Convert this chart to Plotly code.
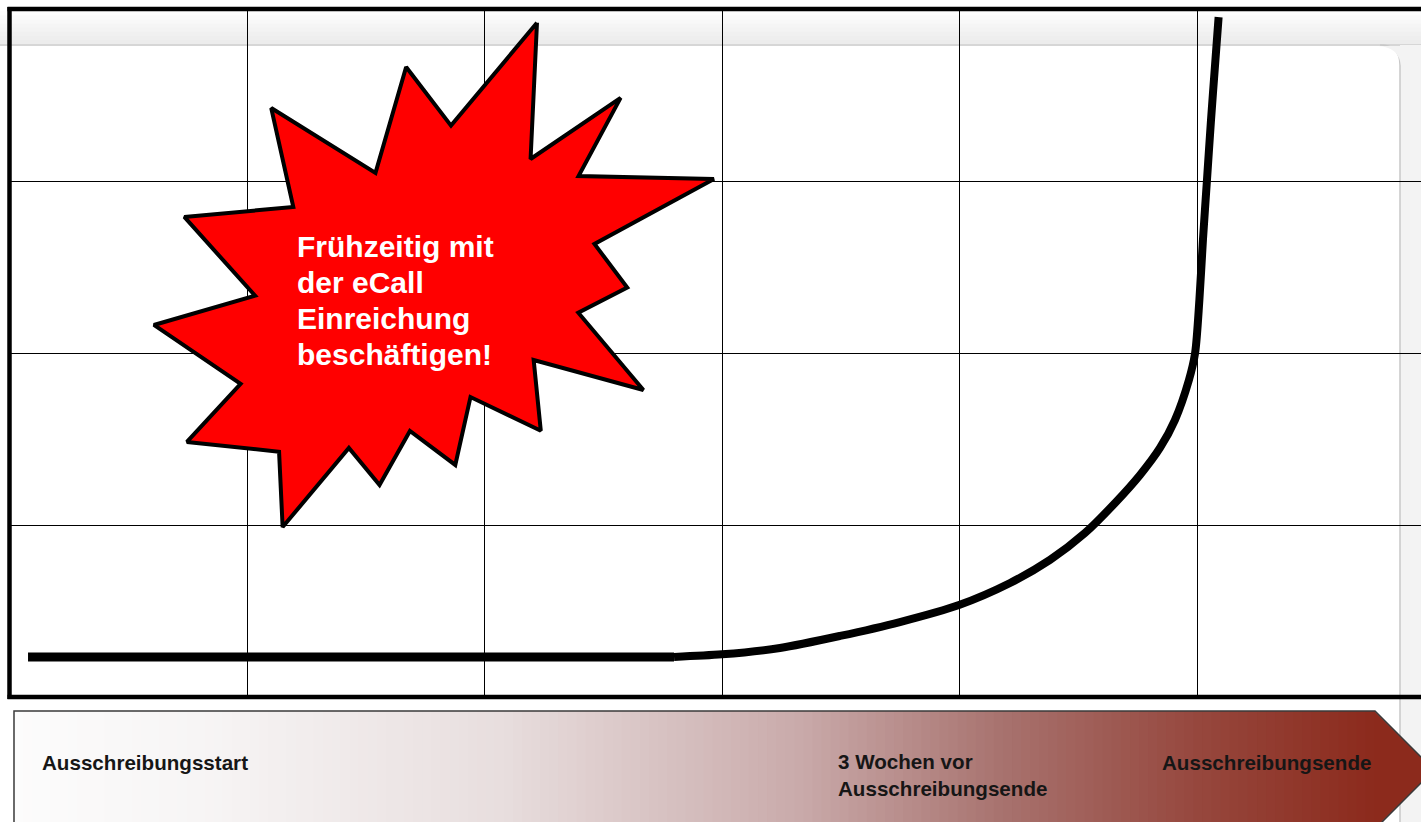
import plotly.graph_objects as go

W, H = 1421, 822

# ---------------- data (grid units: x = time columns, y = effort rows) ----------------
flat_x = [0.078, 2.798]
flat_y = [0.233, 0.233]

curve_x = [2.798, 3.000, 3.244, 3.497, 3.749, 3.998, 4.213, 4.381, 4.528, 4.655, 4.760,
           4.844, 4.907, 4.966, 4.992, 5.010, 5.025, 5.042, 5.059, 5.076, 5.091]
curve_y = [0.233, 0.248, 0.285, 0.355, 0.436, 0.535, 0.663, 0.797, 0.953, 1.128, 1.291,
           1.448, 1.610, 1.843, 2.000, 2.308, 2.657, 3.006, 3.355, 3.674, 3.953]

star_x = [2.221, 2.194, 2.573, 2.396, 2.966, 2.463, 2.601, 2.395, 2.669, 2.207,
          2.237, 1.941, 1.877, 1.686, 1.558, 1.429, 1.150, 1.135, 0.747, 0.973,
          0.608, 1.034, 0.736, 1.195, 1.102, 1.541, 1.670, 1.859]
star_y = [3.920, 3.128, 3.483, 3.029, 3.012, 2.634, 2.380, 2.234, 1.785, 1.959,
          1.548, 1.744, 1.349, 1.547, 1.233, 1.448, 0.988, 1.426, 1.483, 1.820,
          2.163, 2.333, 2.791, 2.849, 3.424, 3.047, 3.663, 3.322]

star_text = ["Frühzeitig mit", "der eCall", "Einreichung", "beschäftigen!"]
timeline_labels = ["Ausschreibungsstart", "3 Wochen vor<br>Ausschreibungsende", "Ausschreibungsende"]

# ---------------- layout geometry (pixels) ----------------
GX0, GX_STEP = 9.5, 237.5
GY0, GY1, GY_STEP = 9.0, 697.0, 172.0
FONT = "Liberation Sans, Arial, sans-serif"


def px(x):
    return x / W


def py(y):
    return 1 - y / H


def ppath(points, close=True):
    s = "M " + " L ".join(f"{px(x):.5f},{py(y):.5f}" for x, y in points)
    return s + (" Z" if close else "")


shapes = []

# background: top band (light vertical gradient)
band_top, band_bot = 11, 44
n_band = 8
for i in range(n_band):
    y0 = band_top + (band_bot - band_top) * i / n_band
    y1 = band_top + (band_bot - band_top) * (i + 1) / n_band + 0.6
    g = int(253 - 17 * i / (n_band - 1))
    shapes.append(dict(type="rect", xref="paper", yref="paper", layer="below",
                       x0=0, x1=1, y0=py(y1), y1=py(y0),
                       fillcolor=f"rgb({g},{g},{g})", line=dict(width=0)))
shapes.append(dict(type="line", xref="paper", yref="paper", layer="below",
                   x0=0, x1=1, y0=py(45), y1=py(45),
                   line=dict(color="#d6d6d6", width=2)))
# right gray strip and rounded window edge
shapes.append(dict(type="rect", xref="paper", yref="paper", layer="below",
                   x0=px(1400), x1=1, y0=0, y1=py(45),
                   fillcolor="#f3f3f3", line=dict(width=0)))
shapes.append(dict(type="path", xref="paper", yref="paper", layer="below",
                   path=(f"M {px(1380):.5f},{py(45):.5f} Q {px(1400):.5f},{py(45):.5f} "
                         f"{px(1400):.5f},{py(65):.5f} L {px(1400):.5f},0"),
                   line=dict(color="#c8c8c8", width=1.5)))
shapes.append(dict(type="path", xref="paper", yref="paper", layer="below",
                   path=(f"M {px(1378):.5f},{py(46):.5f} L {px(1401):.5f},{py(46):.5f} "
                         f"L {px(1401):.5f},{py(66):.5f} Q {px(1399):.5f},{py(47):.5f} "
                         f"{px(1378):.5f},{py(46):.5f} Z"),
                   fillcolor="#f3f3f3", line=dict(width=0)))

# thick border of the grid
shapes.append(dict(type="line", xref="paper", yref="paper", x0=px(GX0), x1=px(GX0),
                   y0=py(GY1 + 2), y1=py(GY0 - 2), line=dict(color="black", width=4.5)))
shapes.append(dict(type="line", xref="paper", yref="paper", x0=px(GX0 - 2), x1=1,
                   y0=py(GY0), y1=py(GY0), line=dict(color="black", width=4.5)))
shapes.append(dict(type="line", xref="paper", yref="paper", x0=px(GX0 - 2), x1=1,
                   y0=py(GY1), y1=py(GY1), line=dict(color="black", width=4.5)))

# timeline arrow with gradient fill
AX0, AX1, ATOP, ABOT, ATIP = 14, 1375, 711, 829, 1434
stops = [(0.0, (252, 252, 252)), (0.137, (247, 245, 245)), (0.357, (232, 222, 222)),
         (0.578, (201, 170, 170)), (0.724, (168, 115, 111)), (0.871, (150, 71, 61)),
         (1.0, (140, 42, 28))]


def grad(f):
    for (f0, c0), (f1, c1) in zip(stops[:-1], stops[1:]):
        if f <= f1:
            t = (f - f0) / (f1 - f0) if f1 > f0 else 0
            return "rgb(%d,%d,%d)" % tuple(round(a + (b - a) * t) for a, b in zip(c0, c1))
    return "rgb(%d,%d,%d)" % stops[-1][1]


n_strips = 150
sw = (AX1 - AX0) / n_strips
for i in range(n_strips):
    x0 = AX0 + i * sw
    shapes.append(dict(type="rect", xref="paper", yref="paper",
                       x0=px(x0), x1=px(min(x0 + sw + 1, AX1)), y0=py(ABOT), y1=py(ATOP),
                       fillcolor=grad((i + 0.5) / n_strips), line=dict(width=0)))
shapes.append(dict(type="path", xref="paper", yref="paper",
                   path=ppath([(AX1 - 0.5, ATOP), (ATIP, (ATOP + ABOT) / 2), (AX1 - 0.5, ABOT)]),
                   fillcolor=grad(1.0), line=dict(width=0)))
shapes.append(dict(type="path", xref="paper", yref="paper",
                   path=ppath([(AX0, ABOT), (AX0, ATOP), (AX1, ATOP),
                               (ATIP, (ATOP + ABOT) / 2), (AX1, ABOT)], close=False),
                   line=dict(color="#3a3a3a", width=1.5)))

fig = go.Figure()

# starburst callout
fig.add_trace(go.Scatter(x=star_x + star_x[:1], y=star_y + star_y[:1], mode="lines",
                         fill="toself", fillcolor="#ff0000",
                         line=dict(color="black", width=4), hoverinfo="skip"))
# effort curve
fig.add_trace(go.Scatter(x=flat_x, y=flat_y, mode="lines",
                         line=dict(color="black", width=9), hoverinfo="skip"))
fig.add_trace(go.Scatter(x=curve_x, y=curve_y, mode="lines",
                         line=dict(color="black", width=8, shape="spline", smoothing=0.8),
                         hoverinfo="skip"))

annotations = []
# star text: one annotation per line (tighter line spacing like the original)
line_centers_px = [246, 282, 318, 354]
for txt, cy in zip(star_text, line_centers_px):
    annotations.append(dict(x=(295 - GX0) / GX_STEP, y=(GY1 - cy) / GY_STEP,
                            xref="x", yref="y", xanchor="left", yanchor="middle",
                            align="left", showarrow=False, text=f"<b>{txt}</b>",
                            font=dict(family=FONT, size=30, color="white")))

label_pos = [(40, 762), (836, 775), (1160, 762)]
for txt, (lx, ly) in zip(timeline_labels, label_pos):
    annotations.append(dict(x=px(lx), y=py(ly), xref="paper", yref="paper",
                            xanchor="left", yanchor="middle", align="left",
                            showarrow=False, text=f"<b>{txt}</b>",
                            font=dict(family=FONT, size=20.6, color="#161616")))

fig.update_layout(
    width=W, height=H,
    margin=dict(l=0, r=0, t=0, b=0),
    paper_bgcolor="white", plot_bgcolor="rgba(0,0,0,0)",
    showlegend=False,
    xaxis=dict(domain=[px(GX0), 1], range=[0, (W - GX0) / GX_STEP], dtick=1, tick0=0,
               showgrid=True, gridcolor="black", gridwidth=1.2, zeroline=False,
               showticklabels=False, ticks="", showline=False, fixedrange=True),
    yaxis=dict(domain=[py(GY1), py(GY0)], range=[0, 4], dtick=1, tick0=0,
               showgrid=True, gridcolor="black", gridwidth=1.2, zeroline=False,
               showticklabels=False, ticks="", showline=False, fixedrange=True),
    shapes=shapes,
    annotations=annotations,
)

fig.write_html("out.html", config={"displayModeBar": False})
